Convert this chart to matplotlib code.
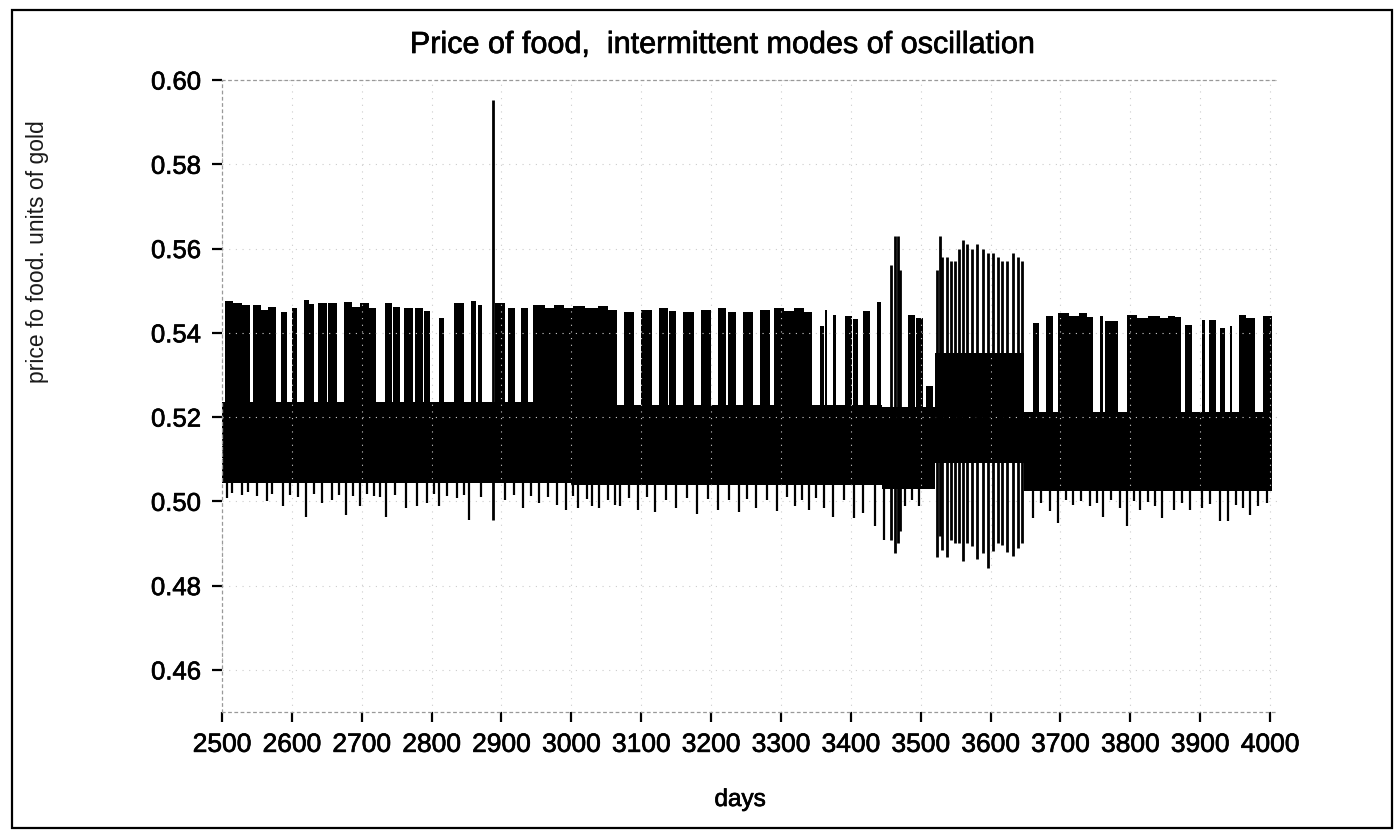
"""
Price of food in units of gold: intermittent modes of oscillation.
The daily series is drawn as its envelope: a dense core band, bursts of
large-amplitude oscillation above it, and single deep troughs below it.
"""

import matplotlib.pyplot as plt
import matplotlib.patheffects as pe
from matplotlib.patches import Rectangle

plt.rcParams["font.family"] = ["Liberation Sans", "DejaVu Sans"]

# core band of the oscillation (segment edges in days, band limits)
core_edges = [2500, 3000, 3445, 3520, 3648, 4003]
core_lo = [0.5044, 0.5038, 0.5030, 0.5090, 0.5025]
core_hi = [0.5236, 0.5228, 0.5225, 0.5352, 0.5212]

# bursts of large oscillation above the core: first day, last day, peak
burst_start = [2504, 2516, 2528, 2544, 2556, 2566, 2585, 2600, 2617, 2624,
               2637, 2652, 2675, 2686, 2698, 2710, 2733, 2745, 2760, 2776,
               2789, 2811, 2832, 2856, 2866, 2891, 2910, 2928, 2945, 2962,
               2975, 2990, 3003, 3020, 3038, 3052, 3075, 3100, 3125, 3140,
               3160, 3185, 3210, 3224, 3245, 3270, 3290, 3305, 3318, 3333,
               3356, 3363, 3375, 3392, 3403, 3417, 3437, 3482, 3494, 3508,
               3661, 3680, 3697, 3712, 3726, 3738, 3757, 3764, 3795, 3810,
               3826, 3842, 3854, 3864, 3878, 3903, 3912, 3928, 3943, 3956,
               3966, 3990]
burst_end = [2516, 2528, 2540, 2556, 2566, 2578, 2593, 2607, 2624, 2631,
             2650, 2664, 2686, 2698, 2710, 2721, 2743, 2755, 2774, 2787,
             2798, 2818, 2846, 2864, 2872, 2905, 2919, 2938, 2962, 2975,
             2990, 3003, 3020, 3038, 3052, 3065, 3090, 3115, 3138, 3150,
             3175, 3200, 3222, 3235, 3260, 3285, 3305, 3318, 3333, 3345,
             3362, 3366, 3379, 3401, 3411, 3428, 3443, 3492, 3504, 3518,
             3670, 3690, 3712, 3726, 3738, 3747, 3761, 3783, 3810, 3826,
             3842, 3854, 3864, 3872, 3888, 3907, 3922, 3935, 3945, 3966,
             3978, 4003]
burst_top = [0.5475, 0.5470, 0.5465, 0.5465, 0.5455, 0.5462, 0.5450, 0.5460,
             0.5478, 0.5468, 0.5470, 0.5470, 0.5474, 0.5462, 0.5470, 0.5458,
             0.5470, 0.5462, 0.5460, 0.5460, 0.5452, 0.5435, 0.5470, 0.5475,
             0.5466, 0.5470, 0.5460, 0.5460, 0.5465, 0.5458, 0.5466, 0.5460,
             0.5463, 0.5458, 0.5464, 0.5455, 0.5450, 0.5455, 0.5460, 0.5452,
             0.5450, 0.5455, 0.5460, 0.5450, 0.5450, 0.5455, 0.5460, 0.5452,
             0.5458, 0.5450, 0.5415, 0.5455, 0.5443, 0.5440, 0.5432, 0.5451,
             0.5474, 0.5443, 0.5435, 0.5273, 0.5423, 0.5439, 0.5447, 0.5440,
             0.5446, 0.5438, 0.5440, 0.5427, 0.5443, 0.5436, 0.5441, 0.5434,
             0.5440, 0.5438, 0.5419, 0.5430, 0.5430, 0.5411, 0.5415, 0.5442,
             0.5435, 0.5440]

# single tall spikes (day, low end, high end)
spike_day = [2888, 3457, 3463, 3467, 3470, 3523, 3527, 3531, 3537, 3544,
             3549, 3555, 3561, 3566, 3573, 3581, 3589, 3596, 3603, 3611,
             3616, 3623, 3632, 3639, 3645]
spike_lo = [0.4955, 0.4909, 0.4877, 0.4900, 0.4930, 0.4869, 0.4917, 0.4885,
            0.4869, 0.4909, 0.4901, 0.4901, 0.4858, 0.4901, 0.4893, 0.4862,
            0.4877, 0.4842, 0.4881, 0.4901, 0.4897, 0.4880, 0.4870, 0.4890,
            0.4900]
spike_hi = [0.5953, 0.5560, 0.5630, 0.5630, 0.5550, 0.5550, 0.5630, 0.5580,
            0.5580, 0.5570, 0.5570, 0.5600, 0.5620, 0.5610, 0.5600, 0.5610,
            0.5600, 0.5590, 0.5590, 0.5580, 0.5570, 0.5570, 0.5590, 0.5580,
            0.5570]

# troughs below the core (day, low)
dip_day = [2507, 2515, 2528, 2537, 2550, 2564, 2572, 2588, 2598, 2609,
           2620, 2632, 2643, 2657, 2668, 2677, 2688, 2698, 2708, 2717,
           2726, 2735, 2748, 2764, 2779, 2793, 2803, 2810, 2822, 2836,
           2846, 2854, 2870, 2905, 2918, 2931, 2942, 2953, 2966, 2979,
           2993, 3002, 3010, 3022, 3030, 3040, 3052, 3062, 3070, 3083,
           3095, 3108, 3120, 3135, 3150, 3165, 3180, 3195, 3210, 3225,
           3240, 3252, 3265, 3280, 3295, 3308, 3320, 3330, 3340, 3350,
           3361, 3375, 3390, 3404, 3418, 3435, 3447, 3478, 3488, 3497,
           3661, 3672, 3685, 3697, 3708, 3718, 3730, 3742, 3752, 3761,
           3772, 3785, 3795, 3805, 3814, 3825, 3835, 3845, 3862, 3874,
           3886, 3902, 3914, 3928, 3940, 3952, 3962, 3971, 3983, 3995]
dip_low = [0.5008, 0.5020, 0.5015, 0.5022, 0.5012, 0.5000, 0.5018, 0.4988,
           0.5016, 0.5010, 0.4964, 0.5018, 0.4996, 0.5004, 0.5016, 0.4968,
           0.5012, 0.4988, 0.5018, 0.5012, 0.5010, 0.4964, 0.5015, 0.4984,
           0.4988, 0.4996, 0.5018, 0.4988, 0.5012, 0.5008, 0.5016, 0.4956,
           0.5010, 0.5004, 0.5014, 0.4984, 0.5012, 0.4996, 0.5010, 0.4992,
           0.4980, 0.5012, 0.4984, 0.5006, 0.4990, 0.4985, 0.5004, 0.4992,
           0.4990, 0.5008, 0.4980, 0.5010, 0.4975, 0.5004, 0.4985, 0.5008,
           0.4970, 0.5006, 0.4980, 0.5002, 0.4975, 0.5006, 0.4985, 0.5004,
           0.4978, 0.5010, 0.4990, 0.5004, 0.4980, 0.5008, 0.4984, 0.4964,
           0.5002, 0.4960, 0.4972, 0.4941, 0.4909, 0.4988, 0.5004, 0.4988,
           0.4960, 0.4995, 0.4976, 0.4949, 0.5004, 0.4992, 0.5000, 0.4990,
           0.4996, 0.4964, 0.5002, 0.4985, 0.4941, 0.5000, 0.4980, 0.4998,
           0.4990, 0.4960, 0.4980, 0.4996, 0.4980, 0.4984, 0.4994, 0.4953,
           0.4953, 0.4992, 0.4985, 0.4968, 0.4990, 0.4996]

x_ticks = list(range(2500, 4001, 100))
y_ticks = [0.46, 0.48, 0.50, 0.52, 0.54, 0.56, 0.58, 0.60]

ink = [pe.withStroke(linewidth=0.5, foreground="black")]

fig = plt.figure(figsize=(13.98, 8.36), dpi=100)
ax = fig.add_axes([222 / 1398, 124 / 836, 1055 / 1398, 632 / 836])

# core band
for i in range(len(core_lo)):
    ax.fill_between([core_edges[i], core_edges[i + 1]], core_lo[i], core_hi[i],
                    color="black", lw=0)

# bursts
widths = [e - s for s, e in zip(burst_start, burst_end)]
heights = [t - 0.515 for t in burst_top]
ax.bar(burst_start, heights, width=widths, bottom=0.515, align="edge",
       color="black", lw=0)

ax.vlines(spike_day, spike_lo, spike_hi, color="black", lw=2.0)
ax.vlines(dip_day, dip_low, 0.510, color="black", lw=1.6)

ax.set_xlim(2500, 4010)
ax.set_ylim(0.45, 0.60)
ax.set_xticks(x_ticks)
ax.set_yticks(y_ticks)
ax.set_yticklabels([f"{v:.2f}" for v in y_ticks])
ax.tick_params(direction="out", length=7, width=1.6, pad=8)
ax.tick_params(axis="x", labelsize=19)
ax.tick_params(axis="y", labelsize=18.5)
for lab in ax.get_xticklabels() + ax.get_yticklabels():
    lab.set_path_effects(ink)
ax.grid(color="0.8", ls=(0, (1, 5)), lw=0.8)
ax.spines["right"].set_visible(False)
for side in ["left", "bottom", "top"]:
    ax.spines[side].set_linestyle((0, (2, 3)))
    ax.spines[side].set_color("0.6")
    ax.spines[side].set_linewidth(0.9)

fig.text(721 / 1398, 1 - 45 / 836, "Price of food,  intermittent modes of oscillation",
         ha="center", va="center", fontsize=22, path_effects=ink)
fig.text(38 / 1398, 1 - 252 / 836, "price fo food. units of gold", rotation=90,
         ha="center", va="center", fontsize=16.5, color="0.1")
fig.text(740 / 1398, 1 - 800 / 836, "days", ha="center", va="center",
         fontsize=17.5, path_effects=ink)

# scanned page frame
fig.add_artist(Rectangle((12 / 1398, 8 / 836), 1380 / 1398, 818 / 836,
                         transform=fig.transFigure, fill=False, lw=1.6,
                         color="black"))

fig.savefig("out.png", dpi=100)
